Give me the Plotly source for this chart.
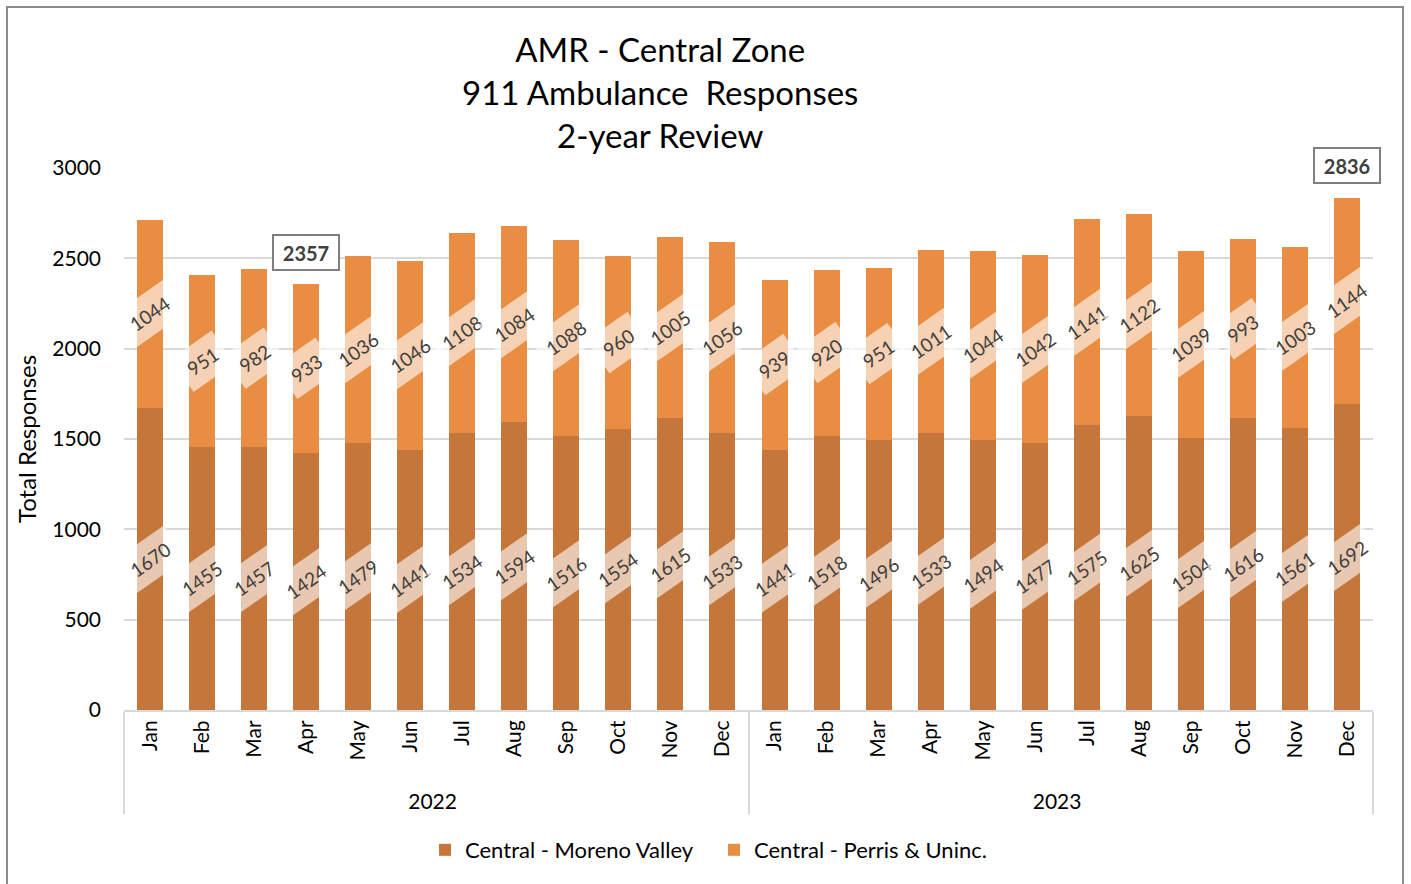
import plotly.graph_objects as go

years = ["2022"] * 12 + ["2023"] * 12
months = ["Jan", "Feb", "Mar", "Apr", "May", "Jun", "Jul", "Aug", "Sep", "Oct", "Nov", "Dec"] * 2
moreno_valley = [1670, 1455, 1457, 1424, 1479, 1441, 1534, 1594, 1516, 1554, 1615, 1533,
                 1441, 1518, 1496, 1533, 1494, 1477, 1575, 1625, 1504, 1616, 1561, 1692]
perris_uninc = [1044, 951, 982, 933, 1036, 1046, 1108, 1084, 1088, 960, 1005, 1056,
                939, 920, 951, 1011, 1044, 1042, 1141, 1122, 1039, 993, 1003, 1144]
highlight_idx = [3, 23]
y_ticks = [0, 500, 1000, 1500, 2000, 2500, 3000]

FONT = "Lato, Calibri, Carlito, sans-serif"
C_DARK = "#C5763A"
C_LIGHT = "#E98D42"

PAD = "\u00a0\u2009"
month_labels = [PAD + m for m in months]

fig = go.Figure()
fig.add_trace(go.Bar(x=[years, month_labels], y=moreno_valley, name="Central - Moreno Valley",
                     marker=dict(color=C_DARK, line=dict(width=0))))
fig.add_trace(go.Bar(x=[years, month_labels], y=perris_uninc, name="Central - Perris & Uninc.",
                     marker=dict(color=C_LIGHT, line=dict(width=0))))

# title lines
fig.add_annotation(
    x=(660 - 124) / 1249, y=(710 - 92) / 542, xref="paper", yref="paper",
    text="AMR - Central Zone<br>911 Ambulance  Responses<br>2-year Review",
    showarrow=False, font=dict(family=FONT, size=33, color="black"),
    align="center", xanchor="center", yanchor="middle",
)

for i, (a, b) in enumerate(zip(moreno_valley, perris_uninc)):
    for val, mid in ((a, a / 2), (b, a + b / 2)):
        fig.add_annotation(
            x=i, y=mid, xref="x2", yref="y", text=str(val), showarrow=False,
            textangle=-35, font=dict(family=FONT, size=19, color="#404040"),
            bgcolor="rgba(255,255,255,0.6)", borderpad=8,
        )
for i in highlight_idx:
    total = moreno_valley[i] + perris_uninc[i]
    fig.add_annotation(
        x=i, y=total, xref="x2", yref="y", text="<b>%d</b>" % total, showarrow=False,
        yshift=32, font=dict(family=FONT, size=20, color="#404040"),
        bgcolor="white", bordercolor="#7F7F7F", borderwidth=2, borderpad=3,
        width=58, height=27,
    )

# outer frame
fig.add_shape(type="rect", xref="paper", yref="paper",
              x0=(7 - 124) / 1249, x1=(1403 - 124) / 1249,
              y0=(710 - 890) / 542, y1=(710 - 7) / 542,
              line=dict(color="#8C8C8C", width=2), fillcolor="rgba(0,0,0,0)", layer="below")

fig.update_layout(
    width=1411, height=884,
    margin=dict(l=124, r=38, t=168, b=174),
    barmode="stack", bargap=0.5,
    plot_bgcolor="white", paper_bgcolor="white",
    font=dict(family=FONT, size=21, color="black"),
    showlegend=True,
    legend=dict(orientation="h", x=0.5 - 0.03 + 0.0024, xanchor="center", y=(710 - 850) / 542,
                yanchor="middle", font=dict(family=FONT, size=22, color="black"),
                traceorder="normal", itemwidth=30, entrywidth=244),
    xaxis=dict(type="multicategory", showline=True, linecolor="#D9D9D9", linewidth=2,
               tickangle=-90, showdividers=True, dividercolor="#D9D9D9", dividerwidth=2,
               ticks="", tickfont=dict(family=FONT, size=21, color="black")),
    xaxis2=dict(overlaying="x", range=[-0.5, 23.5], visible=False, anchor="y"),
    yaxis=dict(range=[0, 3000], tickvals=y_ticks, showgrid=True, gridcolor="#D9D9D9",
               gridwidth=2, zeroline=False, ticks="", ticklen=0, ticklabelstandoff=22,
               tickfont=dict(family=FONT, size=21, color="black"),
               title=dict(text="Total Responses", font=dict(family=FONT, size=24, color="black"),
                          standoff=8)),
)

fig.write_html("out.html", config={"displayModeBar": False},
               post_script="document.body.style.margin='0';document.body.style.padding='0';")
